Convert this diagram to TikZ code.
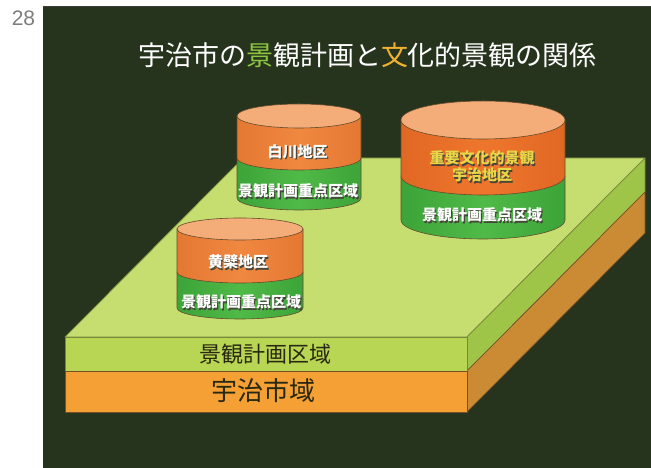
\documentclass[tikz,border=0pt]{standalone}
\usepackage{fontspec}
\setmainfont{Liberation Sans}
\newfontfamily\jp{Noto Sans CJK JP}
\definecolor{bgdark}{RGB}{38,51,29}
\definecolor{panelline}{RGB}{60,62,58}
\definecolor{pagegray}{RGB}{125,125,125}
\definecolor{keigreen}{RGB}{140,198,63}
\definecolor{bunorange}{RGB}{242,178,49}
\definecolor{topface}{RGB}{198,222,112}
\definecolor{frontgreen}{RGB}{184,213,84}
\definecolor{sidegreen}{RGB}{158,197,72}
\definecolor{frontorange}{RGB}{244,160,52}
\definecolor{sideorange}{RGB}{203,139,52}
\definecolor{slabedge}{RGB}{120,135,60}
\definecolor{slabedgeor}{RGB}{120,80,40}
\definecolor{slabtext}{RGB}{40,40,18}
\definecolor{cylline}{RGB}{100,75,45}
\definecolor{cyltop}{RGB}{244,172,120}
\definecolor{cylor}{RGB}{240,136,64}
\definecolor{cylorside}{RGB}{228,120,50}
\definecolor{cylorb}{RGB}{238,118,44}
\definecolor{cylorbside}{RGB}{224,104,36}
\definecolor{cylgrn}{RGB}{80,186,72}
\definecolor{cylgrnside}{RGB}{60,164,56}
\definecolor{shadowgray}{RGB}{70,70,60}
\definecolor{yellowtxt}{RGB}{232,214,72}
% cx, rx, ry, ytop, ymid, ybottom, orange-mid, orange-side
\newcommand\drawcyl[8]{%
  \path[cylstroke,left color=cylgrnside,right color=cylgrnside,middle color=cylgrn]
    (#1-#2,#5) -- (#1-#2,#6) arc[start angle=180,end angle=360,x radius=#2,y radius=#3]
    -- (#1+#2,#5) -- cycle;
  \path[cylstroke,left color=#8,right color=#8,middle color=#7]
    (#1-#2,#4) -- (#1-#2,#5) arc[start angle=180,end angle=360,x radius=#2,y radius=#3]
    -- (#1+#2,#4) -- cycle;
  \path[cylstroke,fill=cyltop] (#1,#4) ellipse[x radius=#2,y radius=#3];
}
\begin{document}
\begin{tikzpicture}[x=1pt,y=1pt,
  cylstroke/.style={draw=cylline,line width=0.6pt},
  slabstroke/.style={draw=slabedge,line width=0.7pt,line join=round},
  pagenum/.style={font=\fontsize{21}{24}\selectfont,text=pagegray,inner sep=0pt},
  titletext/.style={font=\jp\fontsize{27}{30}\selectfont,text=white,inner sep=0pt},
  slablabel/.style={font=\jp\fontsize{22}{26}\selectfont,text=slabtext,inner sep=0pt},
  slablabelbig/.style={font=\jp\fontsize{26}{30}\selectfont,text=slabtext,inner sep=0pt},
  cyltxt/.style={font=\jp\bfseries\fontsize{15}{17}\selectfont,text=white,inner sep=0pt,align=center},
  cylshadow/.style={cyltxt,text=shadowgray}
]
\useasboundingbox (0,0) rectangle (651,468);
\fill[white] (0,0) rectangle (651,468);
\fill[bgdark] (43,0) rectangle (651,461);
\draw[panelline,line width=1pt] (43,461) -- (651,461);
\node[pagenum] (pg) at (23.5,449.5) {28};
\node[titletext] (title) at (367.5,413)
  {宇治市の\textcolor{keigreen}{景}観計画と\textcolor{bunorange}{文}化的景観の関係};

% slab
\coordinate (FTL) at (65,131);
\coordinate (FTR) at (467,131);
\coordinate (FML) at (65,97);
\coordinate (FMR) at (467,97);
\coordinate (FBL) at (65,56);
\coordinate (FBR) at (467,56);
\coordinate (BTL) at (243,310);
\coordinate (BTR) at (645,310);
\coordinate (BMR) at (645,276);
\coordinate (BBR) at (645,235);
\path[slabstroke,fill=topface] (FTL) -- (FTR) -- (BTR) -- (BTL) -- cycle;
\path[slabstroke,fill=sidegreen] (FTR) -- (BTR) -- (BMR) -- (FMR) -- cycle;
\path[slabstroke,draw=slabedgeor,fill=sideorange] (FMR) -- (BMR) -- (BBR) -- (FBR) -- cycle;
\path[slabstroke,fill=frontgreen] (FTL) -- (FTR) -- (FMR) -- (FML) -- cycle;
\path[slabstroke,draw=slabedgeor,fill=frontorange] (FML) -- (FMR) -- (FBR) -- (FBL) -- cycle;
\node[slablabel] (kr) at (265,114) {景観計画区域};
\node[slablabelbig] (ur) at (263,77) {宇治市域};

% cylinders
\drawcyl{299}{62}{12}{352}{310}{270}{cylor}{cylorside}
\drawcyl{483}{82}{19}{348}{292}{248}{cylorb}{cylorbside}
\drawcyl{240}{63}{11}{239}{196}{160}{cylor}{cylorside}

% cylinder labels (shadow first)
\node[cylshadow] (s1as) at (298.9,315.1) {白川地区};
\node[cyltxt] (s1a) at (297.5,316.5) {白川地区};
\node[cylshadow] (s1bs) at (299.4,275.6) {景観計画重点区域};
\node[cyltxt] (s1b) at (298,277) {景観計画重点区域};

\node[cylshadow] (s2as) at (239.4,204.6) {黄檗地区};
\node[cyltxt] (s2a) at (238,206) {黄檗地区};
\node[cylshadow] (s2bs) at (242.4,164.6) {景観計画重点区域};
\node[cyltxt] (s2b) at (241,166) {景観計画重点区域};

\node[cylshadow] (s3as) at (483.4,300.1) {重要文化的景観\\宇治地区};
\node[cyltxt,text=yellowtxt] (s3a) at (482,301.5) {重要文化的景観\\宇治地区};
\node[cylshadow] (s3bs) at (483.4,251.6) {景観計画重点区域};
\node[cyltxt] (s3b) at (482,253) {景観計画重点区域};
\end{tikzpicture}
\end{document}
